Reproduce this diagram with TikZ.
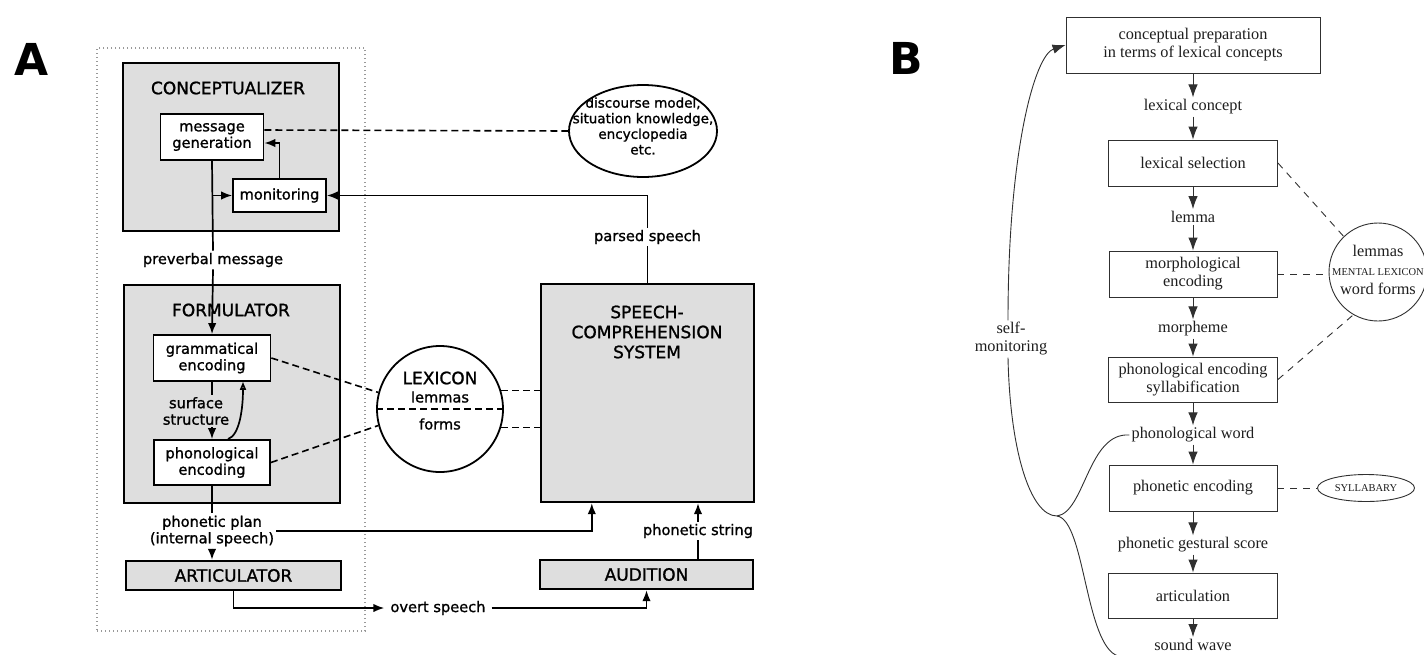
\documentclass[tikz,border=0pt]{standalone}
\usepackage{fontspec}
\usetikzlibrary{arrows.meta,shapes.geometric,calc}
\newfontfamily\afont[FakeBold=1.2]{DejaVu Sans}
\newfontfamily\hfont{DejaVu Sans}
\newfontfamily\bfont{Liberation Serif}
\newcommand\alab{\afont\fontsize{14.6}{16.5}\selectfont}
\newcommand\atit{\afont\fontsize{17}{20}\selectfont}
\newcommand\adisc{\afont\fontsize{13.5}{15.6}\selectfont}
\newcommand\blab{\bfont\fontsize{16.3}{18}\selectfont}
\newcommand\bsc{\bfont\fontsize{10.5}{12}\selectfont}
\definecolor{shade}{HTML}{DEDEDE}
\definecolor{bline}{HTML}{303030}
\definecolor{btext}{HTML}{1E1E1E}
\begin{document}
\begin{tikzpicture}[x=1pt,y=-1pt,
  abig/.style={draw, line width=2.4pt, fill=shade, font=\atit, align=center, inner sep=0pt},
  abox/.style={draw, line width=1.8pt, fill=white, font=\alab, align=center, inner sep=0pt},
  atitle/.style={font=\atit, align=center, inner sep=0pt},
  alabel/.style={font=\alab, align=center, inner sep=2pt},
  aline/.style={line width=1.7pt},
  aarrow/.style={line width=1.7pt, -{Latex[length=11pt,width=8.5pt]}},
  adash/.style={line width=1.6pt, dash pattern=on 7pt off 4pt},
  bbox/.style={draw=bline, line width=0.9pt, font=\blab, text=btext, align=center, inner sep=0pt},
  blabel/.style={font=\blab, text=btext, align=center, inner sep=2pt},
  barrow/.style={draw=bline, line width=0.9pt, -{Latex[length=13pt,width=9.5pt]}},
  bcurve/.style={draw=bline, line width=0.9pt},
  bdash/.style={draw=bline, line width=0.9pt, dash pattern=on 7pt off 6pt}]
\path[fill=white, use as bounding box] (0,0) rectangle (1424,654);

% ---------- Panel A ----------
\node[font=\hfont\bfseries\fontsize{44}{44}\selectfont, inner sep=0pt] (labA) at (32,59) {A};
\node[draw=gray!80, line width=1.2pt, dash pattern=on 1.4pt off 2.6pt, minimum width=268, minimum height=583, inner sep=0pt] (frameA) at (231,339.5) {};

\node[abig, minimum width=216, minimum height=168] (conc) at (231,147) {};
\node[atitle] (conct) at (228,88) {CONCEPTUALIZER};
\node[abox, minimum width=103, minimum height=46] (msg) at (212,137) {message\\generation};
\node[abox, minimum width=93, minimum height=33] (mon) at (279.5,195.5) {monitoring};

\node[abig, minimum width=216, minimum height=218] (form) at (232,394) {};
\node[atitle] (formt) at (231,310) {FORMULATOR};
\node[abox, minimum width=117, minimum height=46] (gram) at (212,358) {grammatical\\encoding};
\node[abox, minimum width=116, minimum height=45] (phon) at (212,462.5) {phonological\\encoding};

\node[abig, minimum width=215, minimum height=29] (art) at (233.5,575.5) {ARTICULATOR};
\node[abig, minimum width=213, minimum height=218] (scs) at (647.5,393) {};
\node[atitle] (scst) at (647,332) {SPEECH-\\COMPREHENSION\\SYSTEM};
\node[abig, minimum width=213, minimum height=29] (aud) at (646.5,574.5) {AUDITION};

\node[draw, ellipse, line width=1.8pt, minimum width=148, minimum height=92, inner sep=0pt] (disc) at (643,131) {};
\node[font=\adisc, align=center, inner sep=0pt] (disct) at (643,126) {discourse model,\\situation knowledge,\\encyclopedia\\etc.};

\node[draw, circle, line width=1.8pt, minimum size=126, inner sep=0pt] (lex) at (440,409) {};
\node[atitle] (lext) at (440,378) {LEXICON};
\node[alabel] (lexl) at (440,397) {lemmas};
\node[alabel] (lexf) at (440,424) {forms};

\node[alabel] (prev) at (213,260) {preverbal message};
\node[alabel] (surf) at (196,411) {surface\\structure};
\node[alabel] (plan) at (212,531) {phonetic plan\\(internal speech)};
\node[alabel] (parsed) at (647.5,237) {parsed speech};
\node[alabel] (pstr) at (698,531) {phonetic string};
\node[alabel, inner xsep=6pt] (overt) at (438,608) {overt speech};

\draw[aline] (msg.south) -- (prev.north);
\draw[aarrow] (prev.south) -- (gram.north);
\draw[aarrow] (mon.west -| msg.south) -- (mon.west);
\draw[aarrow] (mon.north) |- ([yshift=-6pt]msg.east);
\draw[adash] ([yshift=7pt]msg.east) -- (disc.west);
\draw[aline] (scs.north) -- (parsed.south);
\draw[aarrow] (parsed.north) |- (mon.east);
\draw[aline] (gram.south) -- (gram.south |- surf.north);
\draw[aarrow] (gram.south |- surf.south) -- (phon.north);
\draw[line width=1.7pt, -{Triangle[open,length=8pt,width=6pt]}] ([xshift=16pt]phon.north) .. controls +(12,-4) and +(0,25) .. ([xshift=31pt]gram.south);
\draw[aline] (phon.south) -- (plan.north);
\draw[aarrow] (plan.south) -- (plan.south |- art.north);
\draw[aarrow] (plan.east) -| ([xshift=52pt]scs.south west);
\draw[aline] (pstr.south |- aud.north) -- (pstr.south);
\draw[aarrow] (pstr.north) -- (pstr.north |- scs.south);
\draw[aarrow] (art.south) |- (overt.west);
\draw[aarrow] (overt.east) -| (aud.south);

\draw[adash] (gram.east) -- (lex.165);
\draw[adash] (phon.east) -- (lex.195);
\draw[adash] (lex.17) -- (lex.17 -| scs.west);
\draw[adash] (lex.-17) -- (lex.-17 -| scs.west);
\draw[adash] (lex.west) -- (lex.east);

% ---------- Panel B ----------
\node[font=\hfont\bfseries\fontsize{44}{44}\selectfont, inner sep=0pt] (labB) at (906,58) {B};

\node[bbox, minimum width=254, minimum height=56] (b1) at (1193,45) {conceptual preparation\\in terms of lexical concepts};
\node[blabel] (lc) at (1193,107) {lexical concept};
\node[bbox, minimum width=169, minimum height=46] (b2) at (1193,163) {lexical selection};
\node[blabel] (lem) at (1193,217) {lemma};
\node[bbox, minimum width=168, minimum height=46] (b3) at (1193,274) {morphological\\encoding};
\node[blabel] (mor) at (1193,329) {morpheme};
\node[bbox, minimum width=169, minimum height=45] (b4) at (1193,379.5) {phonological encoding\\syllabification};
\node[blabel] (pw) at (1193,435) {phonological word};
\node[bbox, minimum width=168, minimum height=46] (b5) at (1193,488) {phonetic encoding};
\node[blabel] (pgs) at (1193,545) {phonetic gestural score};
\node[bbox, minimum width=169, minimum height=45] (b6) at (1193,595.5) {articulation};
\node[blabel, anchor=base] (sw) at (1193,650.5) {sound wave};

\draw[barrow] (b1.south) -- (lc.north);
\draw[barrow] (lc.south) -- (b2.north);
\draw[barrow] (b2.south) -- (lem.north);
\draw[barrow] (lem.south) -- (b3.north);
\draw[barrow] (b3.south) -- (mor.north);
\draw[barrow] (mor.south) -- (b4.north);
\draw[barrow] (b4.south) -- (pw.north);
\draw[barrow] (pw.south) -- (b5.north);
\draw[barrow] (b5.south) -- (pgs.north);
\draw[barrow] (pgs.south) -- (b6.north);
\draw[barrow] (b6.south) -- (sw.north);

\node[draw=bline, circle, line width=0.9pt, minimum size=98, inner sep=0pt] (lexB) at (1378,272) {};
\node[blabel] (lexBl) at (1378,251) {lemmas};
\node[font=\bsc, text=btext, inner sep=0pt] (lexBm) at (1378,272) {MENTAL LEXICON};
\node[blabel] (lexBw) at (1378,289) {word forms};
\node[draw=bline, ellipse, line width=0.9pt, minimum width=97, minimum height=27, inner sep=0pt] (syl) at (1366,488) {};
\node[font=\bsc, text=btext, inner sep=0pt] (sylt) at (1366,488) {SYLLABARY};

\draw[bdash] (b2.east) -- (lexB.134);
\draw[bdash] (b3.east) -- (b3.east -| lexB.west);
\draw[bdash] (b4.east) -- (lexB.240);
\draw[bdash] (b5.east) -- (syl.west);

\node[blabel] (sm) at (1011,339) {self-\\monitoring};
\coordinate (tip) at (1057,516);
\coordinate (swend) at (1118,656);
\draw[barrow] ([xshift=-3pt]sm.north) .. controls (1008,150) and (1035,55) .. (b1.west);
\draw[bcurve] ([xshift=-3pt]sm.south) .. controls (1010,450) and (1030,516) .. (tip);
\draw[bcurve] (tip) .. controls (1085,512) and (1088,432) .. (pw.west);
\draw[bcurve] (tip) .. controls (1085,520) and (1085,645) .. (swend);
\end{tikzpicture}
\end{document}
